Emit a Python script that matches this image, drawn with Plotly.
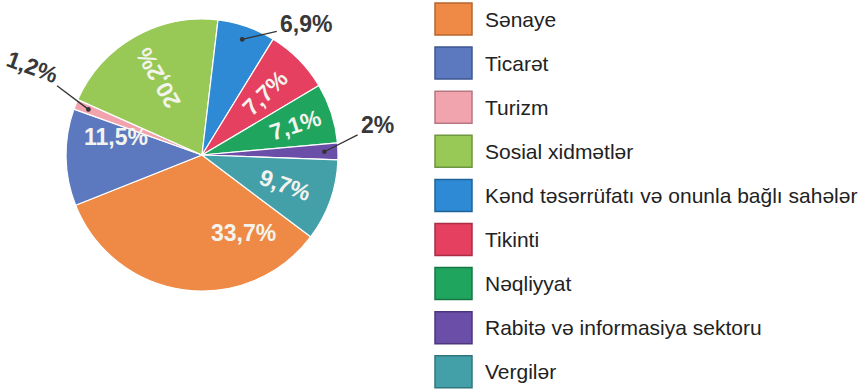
import math
import plotly.graph_objects as go

# Shares of GDP by sector, %
sectors = [
    "Sənaye",
    "Ticarət",
    "Turizm",
    "Sosial xidmətlər",
    "Kənd təsərrüfatı və onunla bağlı sahələr",
    "Tikinti",
    "Nəqliyyat",
    "Rabitə və informasiya sektoru",
    "Vergilər",
]
shares = [33.7, 11.5, 1.2, 20.2, 6.9, 7.7, 7.1, 2.0, 9.7]
colors = ["#EE8A45", "#5C79C0", "#F1A4AE", "#98C957", "#2E8AD4",
          "#E5405F", "#20A55F", "#6A4EA8", "#44A0A8"]
borders = ["#B8652E", "#3E5690", "#B57880", "#6E9640", "#1F6399",
           "#A82D45", "#167745", "#4C377C", "#30777D"]

W, H = 862, 389
CX, CY, R = 202, 155, 136      # pie centre and radius in pixels
ROTATION = 127                  # start angle of the first slice (clockwise from 12 o'clock)

# labels outside the pie, with a leader line (text offset in px from the slice)
outside = {"Turizm": (-56, -42, 20), "Kənd təsərrüfatı və onunla bağlı sahələr": (64, -15, 0),
           "Rabitə və informasiya sektoru": (53, -27, 0)}
# inside labels written along the radius
radial = {"Sosial xidmətlər", "Tikinti", "Nəqliyyat", "Vergilər"}
# small angular nudges of inside labels (degrees)
nudge = {"Sənaye": -36, "Ticarət": 13}
depth = {"Nəqliyyat": 0.72}


def fmt(v):
    s = f"{v:.1f}".rstrip("0").rstrip(".")
    return s.replace(".", ",") + "%"


def to_paper(px, py):
    return px / W, 1 - py / H


fig = go.Figure(go.Pie(
    labels=sectors,
    values=shares,
    sort=False,
    direction="clockwise",
    rotation=ROTATION,
    marker=dict(colors=colors, line=dict(color="white", width=1.2)),
    textinfo="none",
    hoverinfo="label+percent",
    showlegend=False,
    domain=dict(x=[(CX - R) / W, (CX + R) / W], y=[(H - CY - R) / H, (H - CY + R) / H]),
))

annotations = []
total = sum(shares)
start = ROTATION
for name, v in zip(sectors, shares):
    span = v / total * 360
    mid = start + span / 2
    start += span
    text = fmt(v)
    if name in outside:
        ax, ay, ang = outside[name]
        r = 0.9 * R
        px = CX + r * math.sin(math.radians(mid))
        py = CY - r * math.cos(math.radians(mid))
        x, y = to_paper(px, py)
        annotations.append(dict(
            x=x, y=y, xref="paper", yref="paper", text=f"<b>{text}</b>",
            showarrow=True, ax=ax, ay=ay, arrowhead=6, arrowsize=0.9, arrowwidth=1.3,
            arrowcolor="#333333", standoff=0, startstandoff=2, textangle=ang,
            font=dict(family="Liberation Sans, Arial, sans-serif", size=23, color="#383838"),
        ))
        continue
    phi = mid + nudge.get(name, 0)
    r = depth.get(name, 0.65) * R
    px = CX + r * math.sin(math.radians(phi))
    py = CY - r * math.cos(math.radians(phi))
    x, y = to_paper(px, py)
    ang = 0
    if name in radial:
        ang = ((mid - 90) + 180) % 360 - 180
    annotations.append(dict(
        x=x, y=y, xref="paper", yref="paper", text=f"<b>{text}</b>", showarrow=False,
        textangle=ang, xanchor="center", yanchor="middle",
        font=dict(family="Liberation Sans, Arial, sans-serif", size=23, color="#F4F4EE"),
    ))

# legend: coloured squares with the sector names
shapes = []
LX0, LX1, TOP, STEP, SH = 435, 472, 19, 44.1, 32
for i, name in enumerate(sectors):
    cy = TOP + i * STEP
    x0, y1 = to_paper(LX0, cy - SH / 2)
    x1, y0 = to_paper(LX1, cy + SH / 2)
    shapes.append(dict(type="rect", xref="paper", yref="paper", x0=x0, x1=x1, y0=y0, y1=y1,
                       fillcolor=colors[i], line=dict(color=borders[i], width=1.5)))
    tx, ty = to_paper(483, cy)
    annotations.append(dict(
        x=tx, y=ty, xref="paper", yref="paper", text=name, showarrow=False,
        xanchor="left", yanchor="middle",
        font=dict(family="Liberation Sans, Arial, sans-serif", size=21, color="#222222"),
    ))

fig.update_layout(
    width=W, height=H,
    margin=dict(l=0, r=0, t=0, b=0),
    paper_bgcolor="white", plot_bgcolor="white",
    annotations=annotations, shapes=shapes,
)

fig.write_html("out.html")
